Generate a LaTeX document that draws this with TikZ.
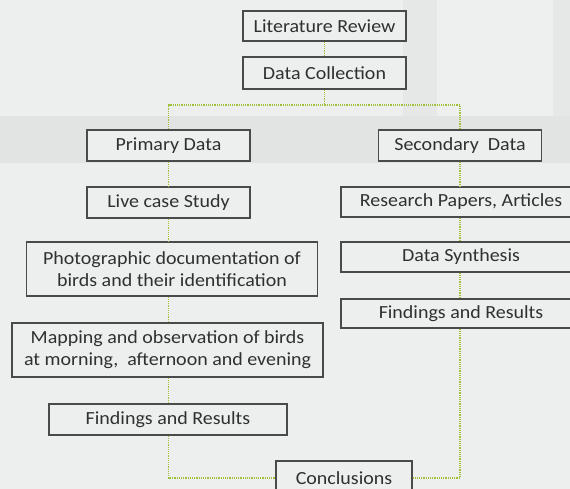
\documentclass[tikz,border=0pt]{standalone}
\usepackage{fontspec}
\setmainfont{Carlito}[FakeStretch=1.08]
\definecolor{bgbase}{HTML}{EDEFEF}
\definecolor{bgband}{HTML}{E2E3E3}
\definecolor{bgstrip}{HTML}{E6E7E7}
\definecolor{bgpanel}{HTML}{EEF0F0}
\definecolor{boxline}{HTML}{4A4A4A}
\definecolor{boxtext}{HTML}{303030}
\definecolor{conn}{HTML}{A2C13A}
\tikzset{
  stepbox/.style={draw=boxline, line width=1.1pt, fill=bgbase, text=boxtext,
    inner sep=0pt, align=center, font=\fontsize{18.5}{22}\selectfont},
  link/.style={draw=conn, line width=1.2pt, dash pattern=on 1.2pt off 1pt}
}
\begin{document}
\begin{tikzpicture}[x=1pt,y=-1pt]
\useasboundingbox (0,0) rectangle (570,489);
\begin{scope}
\clip (0,0) rectangle (570,489);
% background
\fill[bgbase] (0,0) rectangle (570,489);
\fill[bgband] (0,116) rectangle (570,163);
\fill[bgstrip] (403,0) rectangle (437,116);
\fill[bgpanel] (437,0) rectangle (553,116);
\fill[bgstrip] (553,0) rectangle (570,116);
% nodes
\node[stepbox, minimum width=163pt, minimum height=30pt] (lr) at (324.5,26) {Literature Review};
\node[stepbox, minimum width=163pt, minimum height=32pt] (dc) at (324.5,73) {Data Collection};
\node[stepbox, minimum width=163pt, minimum height=31pt] (pd) at (168.5,145.5) {Primary Data};
\node[stepbox, minimum width=163pt, minimum height=31pt] (sd) at (460,145.5) {Secondary\ \ Data};
\node[stepbox, minimum width=163pt, minimum height=31pt] (lcs) at (168.5,202.5) {Live case Study};
\node[stepbox, minimum width=240pt, minimum height=30pt] (rpa) at (461,202) {Research Papers, Articles};
\node[stepbox, minimum width=291pt, minimum height=54pt] (photo) at (172,269) {Photographic documentation of\\birds and their identification};
\node[stepbox, minimum width=240pt, minimum height=30pt] (ds) at (461,257) {Data Synthesis};
\node[stepbox, minimum width=240pt, minimum height=29pt] (frr) at (461,313.5) {Findings and Results};
\node[stepbox, minimum width=311pt, minimum height=54pt] (map) at (167.5,350) {Mapping and observation of birds\\at morning,\ \ afternoon and evening};
\node[stepbox, minimum width=238pt, minimum height=31pt] (fl) at (168,419.5) {Findings and Results};
\node[stepbox, minimum width=136pt, minimum height=34pt] (conc) at (344,478) {Conclusions};
\coordinate (split) at (324.5,105);
% connectors
\draw[link] (lr.south) -- (dc.north);
\draw[link] (dc.south) -- (split);
\draw[link] (pd.north) |- (split) -| (sd.north);
\draw[link] (pd.south) -- (lcs.north);
\draw[link] (lcs.south) -- (lcs.south |- photo.north);
\draw[link] (lcs.south |- photo.south) -- (lcs.south |- map.north);
\draw[link] (lcs.south |- map.south) -- (lcs.south |- fl.north);
\draw[link] (sd.south) -- (sd.south |- rpa.north);
\draw[link] (sd.south |- rpa.south) -- (sd.south |- ds.north);
\draw[link] (sd.south |- ds.south) -- (sd.south |- frr.north);
\draw[link] (lcs.south |- fl.south) |- (conc.west);
\draw[link] (sd.south |- frr.south) |- (conc.east);
\end{scope}
\end{tikzpicture}
\end{document}
